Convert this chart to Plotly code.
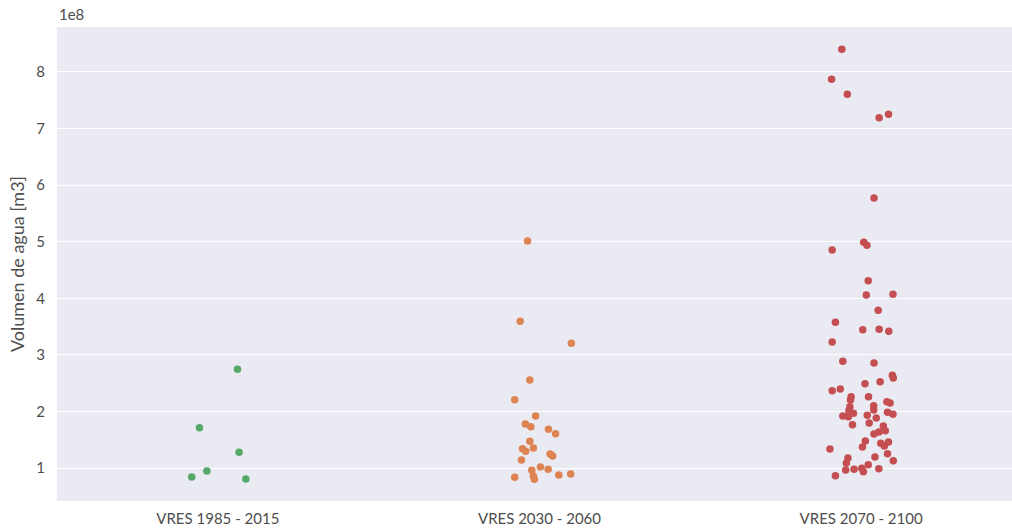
import plotly.graph_objects as go

# Categories (scenario periods)
categories = ["VRES 1985 - 2015", "VRES 2030 - 2060", "VRES 2070 - 2100"]

# Water volume per event, in units of 1e8 m3
vol_1985_2015 = [2.745, 1.712, 1.277, 0.947, 0.841, 0.806]
jit_1985_2015 = [0.061, -0.057, 0.066, -0.034, -0.081, 0.087]

vol_2030_2060 = [5.013, 3.593, 3.204, 2.556, 2.208, 1.919, 1.778, 1.730, 1.684,
                 1.607, 1.472, 1.342, 1.354, 1.295, 1.247, 1.212, 1.141, 1.018,
                 0.959, 0.977, 0.836, 0.859, 0.800, 0.876, 0.894]
jit_2030_2060 = [-0.037, -0.060, 0.099, -0.030, -0.077, -0.012, -0.044, -0.027, 0.028,
                 0.050, -0.030, -0.053, -0.019, -0.043, 0.033, 0.041, -0.056, 0.003,
                 -0.024, 0.027, -0.077, -0.019, -0.016, 0.060, 0.097]

vol_2070_2100 = [8.401, 7.871, 7.606, 7.252, 7.193, 5.773, 4.990, 4.937, 4.854,
                 4.311, 4.058, 4.070, 3.787, 3.576, 3.445, 3.451, 3.416, 3.227,
                 2.886, 2.856, 2.639, 2.591, 2.526, 2.490, 2.367, 2.397, 2.260,
                 2.202, 2.260, 2.172, 2.149, 2.084, 2.101, 2.025, 2.013, 1.967,
                 1.919, 1.907, 1.985, 1.949, 1.932, 1.884, 1.795, 1.766, 1.742,
                 1.660, 1.636, 1.601, 1.477, 1.436, 1.460, 1.389, 1.371, 1.336,
                 1.253, 1.194, 1.177, 1.129, 1.088, 1.058, 0.965, 0.977, 0.995,
                 0.935, 0.988, 0.864]
jit_2070_2100 = [-0.060, -0.092, -0.043, 0.085, 0.056, 0.040, 0.008, 0.018, -0.090,
                 0.022, 0.016, 0.099, 0.053, -0.080, 0.005, 0.056, 0.086, -0.090,
                 -0.057, 0.040, 0.097, 0.100, 0.059, 0.012, -0.090, -0.065, -0.031,
                 -0.033, 0.023, 0.080, 0.090, -0.035, 0.039, 0.039, -0.038, -0.024,
                 -0.057, -0.040, 0.082, 0.099, 0.019, 0.047, 0.025, -0.027, 0.069,
                 0.075, 0.055, 0.040, 0.013, 0.061, 0.085, 0.072, 0.004, -0.097,
                 0.082, 0.043, -0.041, 0.100, -0.046, 0.022, -0.048, -0.022, 0.002,
                 0.007, 0.055, -0.080]

colors = ["#55a868", "#dd8452", "#c44e52"]

series = [
    (vol_1985_2015, jit_1985_2015),
    (vol_2030_2060, jit_2030_2060),
    (vol_2070_2100, jit_2070_2100),
]

FONT = "Lato, 'Open Sans', sans-serif"
TEXT = "#4d4d4d"

fig = go.Figure()
for i, (vals, jit) in enumerate(series):
    fig.add_trace(go.Scatter(
        x=[i + j for j in jit],
        y=[v * 1e8 for v in vals],
        mode="markers",
        marker=dict(color=colors[i], size=7.5, line=dict(width=0)),
        name=categories[i],
        showlegend=False,
    ))

yticks = [1, 2, 3, 4, 5, 6, 7, 8]

fig.update_layout(
    width=1012, height=531,
    margin=dict(l=57, r=0, t=27, b=30),
    paper_bgcolor="white",
    plot_bgcolor="#eaeaf2",
    font=dict(family=FONT, color=TEXT, size=15),
    xaxis=dict(
        range=[-0.5, 2.469],
        tickvals=[0, 1, 2],
        ticktext=categories,
        showgrid=False,
        zeroline=False,
        showline=False,
        ticks="",
        ticklabelstandoff=7,
        tickfont=dict(size=15, color=TEXT),
    ),
    yaxis=dict(
        range=[0.417e8, 8.795e8],
        tickvals=[v * 1e8 for v in yticks],
        ticktext=[str(v) for v in yticks],
        showgrid=True,
        gridcolor="white",
        gridwidth=1.3,
        zeroline=False,
        showline=False,
        ticks="",
        ticklabelstandoff=11,
        tickfont=dict(size=15, color=TEXT),
        title=dict(text="Volumen de agua [m3]", font=dict(size=18, color=TEXT), standoff=6),
    ),
)

fig.add_annotation(
    text="1e8", xref="paper", yref="paper", x=0, y=1,
    xanchor="left", yanchor="bottom", yshift=2, showarrow=False,
    font=dict(size=15, color=TEXT, family=FONT),
)

fig.write_html("out.html")
